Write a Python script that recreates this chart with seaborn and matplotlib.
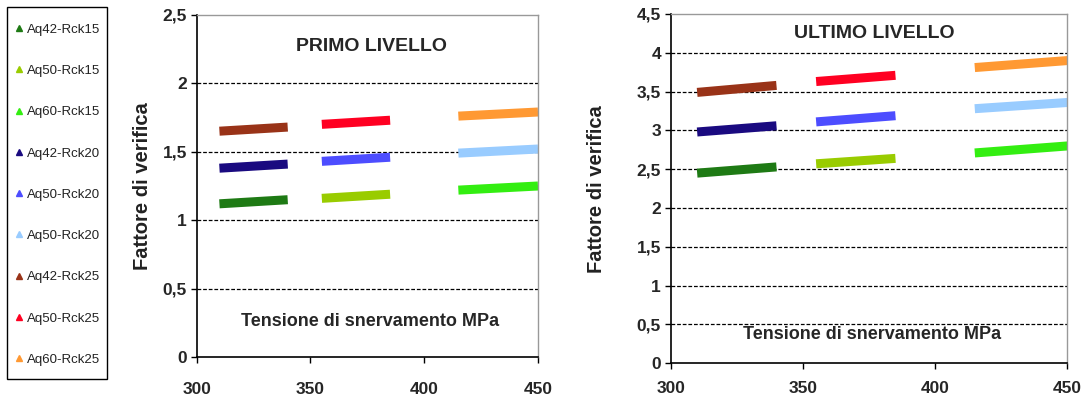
import pandas as pd
import seaborn as sns
import matplotlib.pyplot as plt
from matplotlib.lines import Line2D
from matplotlib.patches import Rectangle
from matplotlib.ticker import FuncFormatter

sns.set_theme(style="white")
plt.rcParams["font.family"] = ["Liberation Sans", "DejaVu Sans"]

series = ["Aq42-Rck15", "Aq50-Rck15", "Aq60-Rck15",
          "Aq42-Rck20", "Aq50-Rck20", "Aq60-Rck20",
          "Aq42-Rck25", "Aq50-Rck25", "Aq60-Rck25"]
legend_labels = ["Aq42-Rck15", "Aq50-Rck15", "Aq60-Rck15",
                 "Aq42-Rck20", "Aq50-Rck20", "Aq50-Rck20",
                 "Aq42-Rck25", "Aq50-Rck25", "Aq60-Rck25"]
colors = ["#1e7a14", "#99cc00", "#33ee11",
          "#1a0a80", "#4d4dff", "#99ccff",
          "#993318", "#ff0022", "#ff9933"]

# yield stress range per steel grade (start, end)
x_start = [310, 355, 415, 310, 355, 415, 310, 355, 415]
x_end = [340, 385, 450, 340, 385, 450, 340, 385, 450]

# verification factor, first level
primo_start = [1.12, 1.16, 1.22, 1.38, 1.43, 1.49, 1.65, 1.70, 1.76]
primo_end = [1.15, 1.19, 1.25, 1.41, 1.46, 1.52, 1.68, 1.73, 1.79]

# verification factor, last level
ultimo_start = [2.45, 2.57, 2.71, 2.98, 3.11, 3.28, 3.49, 3.63, 3.81]
ultimo_end = [2.53, 2.64, 2.80, 3.06, 3.19, 3.36, 3.58, 3.71, 3.90]


def long_df(y0, y1):
    rows = []
    for s, xa, xb, ya, yb in zip(series, x_start, x_end, y0, y1):
        rows.append({"serie": s, "x": xa, "y": ya})
        rows.append({"serie": s, "x": xb, "y": yb})
    return pd.DataFrame(rows)


palette = dict(zip(series, colors))
comma = FuncFormatter(lambda v, p: f"{v:g}".replace(".", ","))

W, H = 1086, 401
fig = plt.figure(figsize=(W / 100, H / 100), dpi=100)
ax1 = fig.add_axes([0.1811, 0.1090, 0.3143, 0.8543])
ax2 = fig.add_axes([0.6176, 0.0940, 0.3652, 0.8711])

panels = [
    (ax1, long_df(primo_start, primo_end), 2.5, "PRIMO LIVELLO", 2.27, 0.26, -0.131, 14),
    (ax2, long_df(ultimo_start, ultimo_end), 4.5, "ULTIMO LIVELLO", 4.25, 0.365, -0.163, 9),
]

for ax, df, ymax, title, ty, ly, lx, xpad in panels:
    sns.lineplot(data=df, x="x", y="y", hue="serie", palette=palette,
                 linewidth=6.5, legend=False, ax=ax, solid_capstyle="butt")
    ax.set_xlim(300, 450)
    ax.set_ylim(0, ymax)
    ax.set_xticks([300, 350, 400, 450])
    yt = [i * 0.5 for i in range(int(round(ymax / 0.5)) + 1)]
    ax.set_yticks(yt)
    ax.yaxis.set_major_formatter(comma)
    for v in yt[1:-1]:
        ax.axhline(v, color="black", linestyle=(0, (3, 1.5)), linewidth=0.9, zorder=0)
    for lab in ax.get_xticklabels() + ax.get_yticklabels():
        lab.set_fontweight("bold")
        lab.set_fontsize(12.5)
    ax.tick_params(axis="both", direction="out", length=4, width=1, color="black",
                   left=True, bottom=True, pad=3)
    ax.tick_params(axis="x", pad=xpad)
    for side in ["left", "bottom"]:
        ax.spines[side].set_color("black")
        ax.spines[side].set_linewidth(1.2)
    for side in ["top", "right"]:
        ax.spines[side].set_color("#999999")
        ax.spines[side].set_linewidth(1.0)
    ax.set_xlabel("")
    ax.set_ylabel("Fattore di verifica", fontsize=14.5, fontweight="bold", color="#222222")
    ax.yaxis.set_label_coords(lx, 0.5)
    ax.text(377, ty, title, ha="center", va="center", fontsize=14, fontweight="bold")
    ax.text(376, ly, "Tensione di snervamento MPa", ha="center", va="center",
            fontsize=13, fontweight="bold")

# legend box drawn separately so the padding can differ per side
fig.patches.append(Rectangle((7 / W, 1 - 379 / H), 100 / W, 372 / H,
                             transform=fig.transFigure, fill=False,
                             edgecolor="black", linewidth=1.0))
handles = [Line2D([], [], marker="^", linestyle="none", color=c, markersize=5)
           for c in colors]
leg = fig.legend(handles, legend_labels, loc="upper left",
                 bbox_to_anchor=(15.5 / W, 1 - 23.5 / H), bbox_transform=fig.transFigure,
                 fontsize=9.5, frameon=False,
                 labelspacing=2.2, handlelength=0.5, handletextpad=0.4,
                 borderpad=0, borderaxespad=0)
for t in leg.get_texts():
    t.set_color("#222222")

fig.savefig("out.png", dpi=100)
plt.close(fig)
